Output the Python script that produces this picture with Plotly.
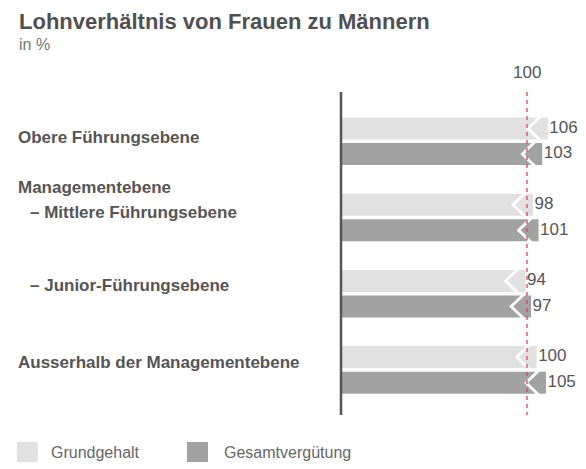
import plotly.graph_objects as go

# ---- data ----
title = "Lohnverhältnis von Frauen zu Männern"
subtitle = "in %"
categories = ["Obere Führungsebene", "– Mittlere Führungsebene",
              "– Junior-Führungsebene", "Ausserhalb der Managementebene"]
group_header = "Managementebene"
series_names = ["Grundgehalt", "Gesamtvergütung"]
grundgehalt = [106, 98, 94, 100]
gesamtverguetung = [103, 101, 97, 105]
reference_value = 100

# ---- styling ----
LIGHT = "#e1e1e1"
DARK = "#a2a2a2"
TXT = "#555555"
FONT = "Liberation Sans, Arial, sans-serif"

W, H = 586, 469
PX_PER_UNIT_X = 1.86
X0_PX = 341
xmin = -X0_PX / PX_PER_UNIT_X
xmax = (W - X0_PX) / PX_PER_UNIT_X

GROUP_PX = 76.2
G0_PX = 141.3
ymin = -G0_PX / GROUP_PX
ymax = (H - G0_PX) / GROUP_PX

half_h = 11 / GROUP_PX
offset = 12.8 / GROUP_PX

tip_back = 5.5   # notch depth (x units)
head = 5.2       # arrowhead extension beyond value

fig = go.Figure()

def bar_polys(values, sign):
    xs, ys, cx, cy = [], [], [], []
    for i, v in enumerate(values):
        yc = i + sign * offset
        top, bot = yc - half_h, yc + half_h
        xs += [0, v + head, v + head, 0, 0, None]
        ys += [top, top, bot, bot, top, None]
        cx += [v + 1.5, v - tip_back, v + 1.5, None]
        cy += [top - 0.02, yc, bot + 0.02, None]
    return xs, ys, cx, cy

for vals, sign, color, name in [(grundgehalt, -1, LIGHT, series_names[0]),
                                (gesamtverguetung, 1, DARK, series_names[1])]:
    xs, ys, cx, cy = bar_polys(vals, sign)
    fig.add_trace(go.Scatter(x=xs, y=ys, fill="toself", fillcolor=color,
                             line=dict(width=0, color=color), mode="lines",
                             name=name, showlegend=False, hoverinfo="skip"))
    fig.add_trace(go.Scatter(x=cx, y=cy, mode="lines",
                             line=dict(color="white", width=2.8),
                             showlegend=False, hoverinfo="skip"))
    fig.add_trace(go.Scatter(x=[v + head + 0.8 for v in vals],
                             y=[i + sign * offset for i in range(len(vals))],
                             mode="text", text=[str(v) for v in vals],
                             textposition="middle right",
                             textfont=dict(size=17, color=TXT, family=FONT),
                             showlegend=False, hoverinfo="skip"))

line_top = (92 - G0_PX) / GROUP_PX
line_bot = (415 - G0_PX) / GROUP_PX

shapes = [
    dict(type="line", xref="x", yref="y", x0=reference_value, x1=reference_value,
         y0=line_top, y1=line_bot, line=dict(color="#e8404f", width=1.3, dash="4px,4px")),
    dict(type="line", xref="x", yref="y", x0=0, x1=0, y0=line_top, y1=line_bot,
         line=dict(color="#555555", width=2.5)),
]

annotations = [
    dict(text=f"<b>{title}</b>", x=17 / W, y=1 - 22 / H, xref="paper", yref="paper",
         xanchor="left", yanchor="middle", showarrow=False,
         font=dict(size=22, color="#505050", family=FONT)),
    dict(text=subtitle, x=17 / W, y=1 - 44 / H, xref="paper", yref="paper",
         xanchor="left", yanchor="middle", showarrow=False,
         font=dict(size=16, color="#777777", family=FONT)),
    dict(text=str(reference_value), x=reference_value, y=(72 - G0_PX) / GROUP_PX,
         xref="x", yref="y", xanchor="center", yanchor="middle", showarrow=False,
         font=dict(size=17, color=TXT, family=FONT)),
]

label_y = [-0.056, -0.06, -0.11, -0.10]
label_x = [16, 28, 28, 16]
for i, (cat, dy, lx) in enumerate(zip(categories, label_y, label_x)):
    annotations.append(dict(text=f"<b>{cat}</b>", x=lx / W, y=i + dy, xref="paper", yref="y",
                            xanchor="left", yanchor="middle", showarrow=False,
                            font=dict(size=17, color=TXT, family=FONT)))
annotations.append(dict(text=f"<b>{group_header}</b>", x=16 / W, y=1 - 0.40, xref="paper", yref="y",
                        xanchor="left", yanchor="middle", showarrow=False,
                        font=dict(size=17, color=TXT, family=FONT)))

# legend
for (x0, x1, tx), color, name in [((17, 38, 49), LIGHT, series_names[0]),
                                   ((187, 208, 222), DARK, series_names[1])]:
    shapes.append(dict(type="rect", xref="paper", yref="paper",
                       x0=x0 / W, x1=x1 / W, y0=1 - 462 / H, y1=1 - 442 / H,
                       fillcolor=color, line=dict(width=0)))
    annotations.append(dict(text=name, x=tx / W, y=1 - 452 / H, xref="paper", yref="paper",
                            xanchor="left", yanchor="middle", showarrow=False,
                            font=dict(size=16, color="#666666", family=FONT)))

fig.update_layout(
    width=W, height=H, margin=dict(l=0, r=0, t=0, b=0),
    paper_bgcolor="white", plot_bgcolor="white",
    xaxis=dict(range=[xmin, xmax], visible=False, fixedrange=True),
    yaxis=dict(range=[ymax, ymin], visible=False, fixedrange=True),
    shapes=shapes, annotations=annotations, showlegend=False,
)

fig.write_html("out.html", config={"displayModeBar": False},
               post_script="document.body.style.margin='0';document.body.style.padding='0';")
